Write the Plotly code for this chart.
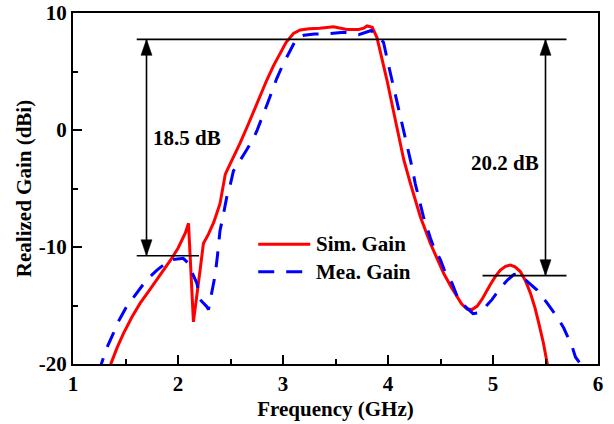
import plotly.graph_objects as go

# ---------------- data ----------------
sim_freq = [1.33, 1.36, 1.42, 1.48, 1.56, 1.64, 1.72, 1.80, 1.87, 1.94, 2.00, 2.036, 2.07, 2.10,
            2.147, 2.21, 2.242, 2.29, 2.34, 2.40, 2.45, 2.465, 2.53, 2.59, 2.66, 2.72, 2.78, 2.846,
            2.91, 2.973, 3.03, 3.10, 3.164, 3.25, 3.35, 3.48, 3.55, 3.61, 3.72, 3.77, 3.80, 3.85,
            3.895, 3.99, 4.07, 4.149, 4.213, 4.308, 4.403, 4.47, 4.53, 4.60, 4.658, 4.70, 4.753,
            4.80, 4.85, 4.90, 4.975, 5.02, 5.07, 5.12, 5.166, 5.21, 5.26, 5.31, 5.357, 5.40, 5.436,
            5.48, 5.516, 5.54]
sim_gain = [-21.0, -20.0, -18.6, -17.4, -16.0, -14.8, -13.8, -12.8, -11.9, -10.97, -10.1, -9.4, -8.8, -7.97,
            -16.4, -12.0, -9.7, -8.9, -7.9, -6.3, -3.8, -3.5, -2.3, -1.14, 0.3, 1.6, 2.9, 4.27,
            5.5, 6.56, 7.5, 8.26, 8.55, 8.65, 8.7, 8.83, 8.7, 8.6, 8.6, 8.7, 8.89, 8.78,
            7.9, 4.27, 0.85, -2.5, -4.56, -7.41, -9.68, -11.1, -12.25, -13.4, -14.25, -14.85, -15.3,
            -15.35, -15.05, -14.4, -13.2, -12.55, -11.97, -11.65, -11.54, -11.7, -12.1, -12.9, -13.96, -15.2, -16.5,
            -18.2, -19.94, -21.0]

mea_freq = [1.24, 1.273, 1.32, 1.384, 1.43, 1.51, 1.59, 1.70, 1.80, 1.87, 1.925, 2.05, 2.10, 2.13,
            2.18, 2.21, 2.275, 2.29, 2.322, 2.354, 2.375, 2.40, 2.433, 2.465, 2.497, 2.528, 2.64,
            2.72, 2.75, 2.814, 2.862, 2.94, 2.973, 3.005, 3.069, 3.116, 3.13, 3.20, 3.30, 3.45,
            3.58, 3.72, 3.80, 3.84, 3.90, 3.957, 4.006, 4.07, 4.136, 4.187, 4.228, 4.26, 4.308,
            4.34, 4.403, 4.435, 4.50, 4.546, 4.61, 4.658, 4.737, 4.81, 4.88, 4.99, 5.07, 5.14,
            5.20, 5.25, 5.293, 5.36, 5.42, 5.516, 5.61, 5.675, 5.754, 5.785, 5.833, 5.86]
mea_gain = [-20.8, -19.9, -18.66, -17.38, -16.4, -15.1, -14.1, -12.82, -11.97, -11.5, -11.1, -10.97, -11.4, -12.1,
            -13.1, -14.5, -15.1, -15.35, -13.7, -12.4, -10.8, -8.6, -7.2, -5.7, -4.7, -3.5, -1.9,
            -0.7, -0.1, 1.3, 2.5, 4.4, 5.1, 5.7, 6.8, 7.6, 7.84, 8.1, 8.2, 8.25,
            8.35, 8.15, 8.4, 8.5, 8.0, 7.5, 5.5, 3.0, 0.6, -1.6, -3.14, -4.6, -6.3,
            -7.5, -9.2, -10.0, -11.1, -12.2, -13.1, -14.2, -15.1, -15.7, -15.6, -14.5, -13.5, -12.8,
            -12.35, -12.3, -12.68, -13.2, -13.68, -14.8, -15.96, -16.95, -18.52, -19.4, -20.0, -20.5]

series_names = ["Sim. Gain", "Mea. Gain"]
x_tick_vals = [1, 2, 3, 4, 5, 6]
y_tick_vals = [-20, -10, 0, 10]

# annotation (reference levels) values
ref_top = 7.75
ref_left_low = -10.75
ref_right_low = -12.45
top_span = (1.607, 5.70)
left_span = (1.607, 2.20)
right_span = (4.90, 5.70)
arrow_x_left = 1.70
arrow_x_right = 5.50
label_left = "18.5 dB"
label_right = "20.2 dB"
label_left_pos = (2.09, -0.68)
label_right_pos = (5.118, -2.82)

# legend placement (data units)
legend_x0, legend_x1 = 2.764, 3.26
legend_text_x = 3.297
legend_y = [-9.77, -12.11]

FONT = "Liberation Serif"
RED = "#FF0000"
BLUE = "#0000FF"
DASH = "16px,12px"

fig = go.Figure()
fig.add_trace(go.Scatter(x=sim_freq, y=sim_gain, mode="lines", name=series_names[0],
                         line=dict(color=RED, width=3), showlegend=False))
fig.add_trace(go.Scatter(x=mea_freq, y=mea_gain, mode="lines", name=series_names[1],
                         line=dict(color=BLUE, width=3, dash=DASH), showlegend=False))

shapes = []
line_style = dict(color="black", width=1.6)
# horizontal reference lines
for (x0, x1), yv in [(top_span, ref_top), (left_span, ref_left_low), (right_span, ref_right_low)]:
    shapes.append(dict(type="line", xref="x", yref="y", x0=x0, x1=x1, y0=yv, y1=yv, line=line_style))
# vertical double arrows
for ax, ylow in [(arrow_x_left, ref_left_low), (arrow_x_right, ref_right_low)]:
    shapes.append(dict(type="line", xref="x", yref="y", x0=ax, x1=ax, y0=ylow, y1=ref_top, line=line_style))
    shapes.append(dict(type="path", xref="x", yref="y", xsizemode="pixel", ysizemode="pixel",
                       xanchor=ax, yanchor=ref_top, path="M-5.5,-16 L0,0 L5.5,-16 Z",
                       fillcolor="black", line=dict(color="black", width=0.5)))
    shapes.append(dict(type="path", xref="x", yref="y", xsizemode="pixel", ysizemode="pixel",
                       xanchor=ax, yanchor=ylow, path="M-5.5,16 L0,0 L5.5,16 Z",
                       fillcolor="black", line=dict(color="black", width=0.5)))
# legend samples
shapes.append(dict(type="line", xref="x", yref="y", x0=legend_x0, x1=legend_x1, y0=legend_y[0], y1=legend_y[0],
                   line=dict(color=RED, width=3)))
shapes.append(dict(type="line", xref="x", yref="y", x0=legend_x0, x1=legend_x1, y0=legend_y[1], y1=legend_y[1],
                   line=dict(color=BLUE, width=3, dash=DASH)))

bold = dict(family=FONT, size=21, color="black", weight="bold")
annotations = [
    dict(x=label_left_pos[0], y=label_left_pos[1], text=label_left, showarrow=False, font=bold,
         xanchor="center", yanchor="middle"),
    dict(x=label_right_pos[0], y=label_right_pos[1], text=label_right, showarrow=False, font=bold,
         xanchor="center", yanchor="middle"),
]
for name, yv in zip(series_names, legend_y):
    annotations.append(dict(x=legend_text_x, y=yv, text=name, showarrow=False, font=bold,
                            xanchor="left", yanchor="middle"))

axis_common = dict(showline=True, mirror=True, linecolor="black", linewidth=2,
                   ticks="inside", ticklen=9, tickwidth=1.6, tickcolor="black",
                   showgrid=False, zeroline=False, tickfont=bold, automargin=False)

fig.update_layout(
    width=614, height=424,
    margin=dict(l=73, r=16, t=13, b=60),
    paper_bgcolor="white", plot_bgcolor="white",
    shapes=shapes, annotations=annotations,
    xaxis=dict(range=[1, 6], tickvals=x_tick_vals, ticktext=[str(v) for v in x_tick_vals],
               minor=dict(dtick=0.5, ticks="inside", ticklen=5, tickwidth=1.6, tickcolor="black"),
               title=dict(text="Frequency (GHz)", font=bold, standoff=6), **axis_common),
    yaxis=dict(range=[-20, 10], tickvals=y_tick_vals, ticktext=[str(v) for v in y_tick_vals],
               minor=dict(dtick=5, ticks="inside", ticklen=5, tickwidth=1.6, tickcolor="black"),
               title=dict(text="Realized Gain (dBi)", font=bold, standoff=1), **axis_common),
    showlegend=False,
)

fig.write_html("out.html")
